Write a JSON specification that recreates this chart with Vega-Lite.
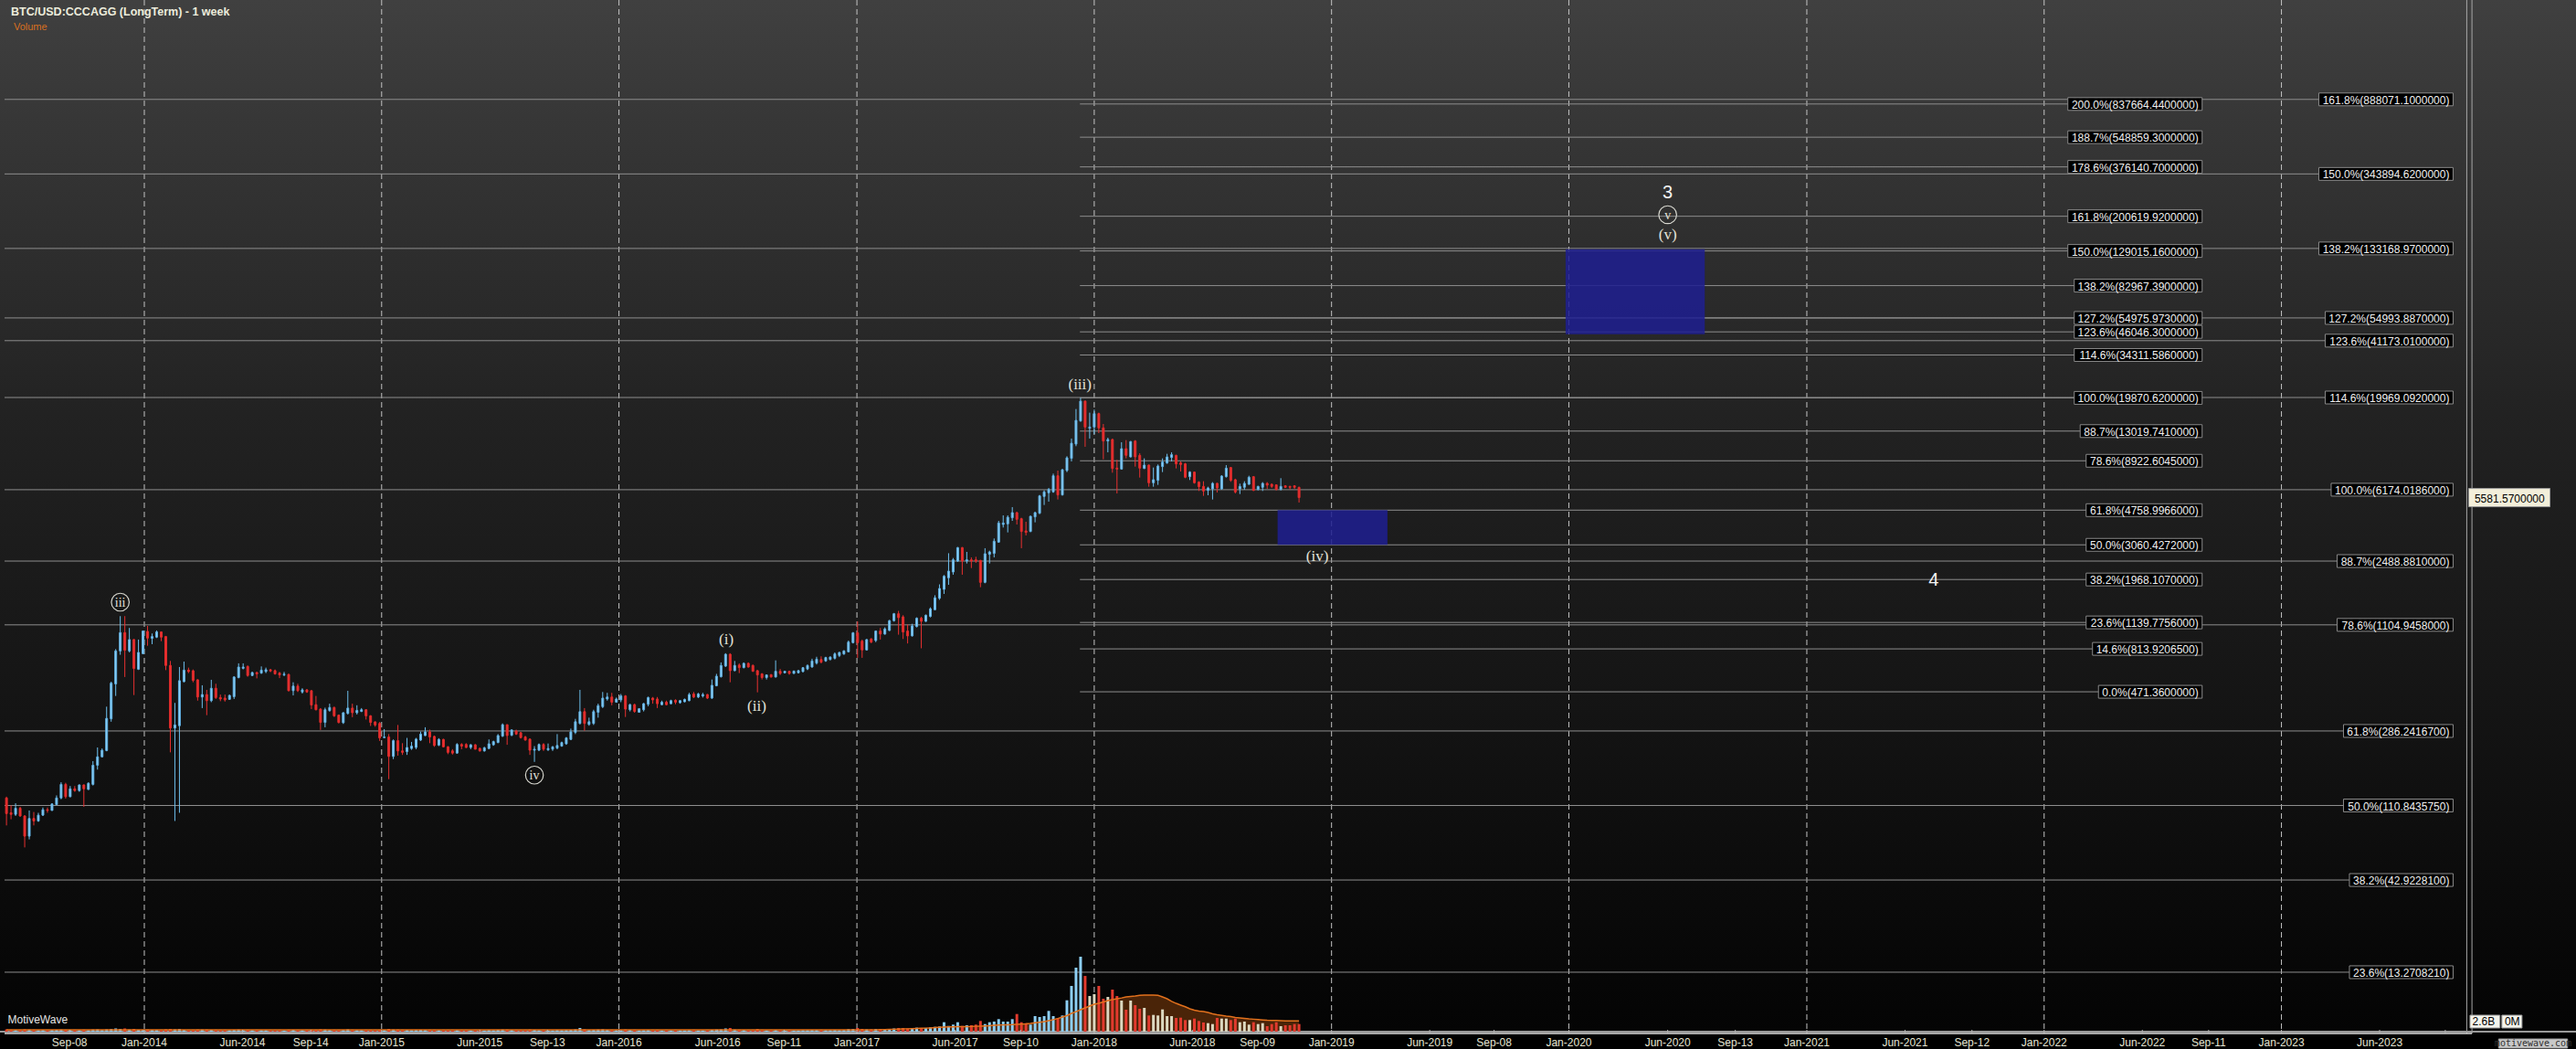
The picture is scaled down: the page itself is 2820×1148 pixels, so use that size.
{
"$schema":"https://vega.github.io/schema/vega-lite/v6.json",
"width":2820,"height":1131,
"autosize":{"type":"none"},
"padding":{"left":0,"top":0,"right":0,"bottom":17},
"background":"#000000",
"view":{"stroke":null,"fill":{"gradient":"linear","x1":0,"y1":0,"x2":0,"y2":1,"stops":[{"offset":0,"color":"#404040"},{"offset":0.07,"color":"#3a3a3a"},{"offset":0.35,"color":"#262626"},{"offset":0.4,"color":"#222222"},{"offset":0.69,"color":"#141414"},{"offset":0.95,"color":"#060606"},{"offset":1,"color":"#040404"}]}},
"datasets":{
"candles":[
{"d":"2013-06-03","o":122,"h":124,"l":86,"c":100,"v":80,"m":64},
{"d":"2013-06-10","o":101,"h":111,"l":93,"c":99,"v":64,"m":64},
{"d":"2013-06-17","o":99,"h":114,"l":97,"c":107,"v":56,"m":64},
{"d":"2013-06-24","o":107,"h":109,"l":96,"c":97,"v":56,"m":64},
{"d":"2013-07-01","o":97,"h":98,"l":65,"c":75,"v":80,"m":64},
{"d":"2013-07-08","o":75,"h":104,"l":72,"c":94,"v":72,"m":64},
{"d":"2013-07-15","o":94,"h":102,"l":86,"c":91,"v":56,"m":64},
{"d":"2013-07-22","o":91,"h":101,"l":90,"c":98,"v":48,"m":64},
{"d":"2013-07-29","o":98,"h":108,"l":97,"c":105,"v":56,"m":64},
{"d":"2013-08-05","o":105,"h":108,"l":101,"c":104,"v":48,"m":64},
{"d":"2013-08-12","o":104,"h":114,"l":104,"c":113,"v":56,"m":64},
{"d":"2013-08-19","o":112,"h":126,"l":112,"c":122,"v":64,"m":64},
{"d":"2013-08-26","o":122,"h":149,"l":120,"c":145,"v":72,"m":64},
{"d":"2013-09-02","o":145,"h":148,"l":121,"c":124,"v":64,"m":64},
{"d":"2013-09-09","o":124,"h":142,"l":123,"c":137,"v":56,"m":64},
{"d":"2013-09-16","o":137,"h":142,"l":132,"c":134,"v":48,"m":64},
{"d":"2013-09-23","o":134,"h":145,"l":132,"c":144,"v":48,"m":64},
{"d":"2013-09-30","o":144,"h":145,"l":109,"c":137,"v":64,"m":64},
{"d":"2013-10-07","o":136,"h":149,"l":135,"c":147,"v":48,"m":64},
{"d":"2013-10-14","o":145,"h":195,"l":143,"c":185,"v":72,"m":64},
{"d":"2013-10-21","o":185,"h":232,"l":175,"c":206,"v":80,"m":64},
{"d":"2013-10-28","o":206,"h":229,"l":204,"c":224,"v":56,"m":64},
{"d":"2013-11-04","o":223,"h":390,"l":221,"c":336,"v":80,"m":64},
{"d":"2013-11-11","o":334,"h":536,"l":322,"c":526,"v":96,"m":64},
{"d":"2013-11-18","o":521,"h":811,"l":447,"c":793,"v":112,"m":64},
{"d":"2013-11-25","o":793,"h":1235,"l":755,"c":1001,"v":96,"m":64},
{"d":"2013-12-02","o":1001,"h":1235,"l":569,"c":800,"v":112,"m":64},
{"d":"2013-12-09","o":793,"h":1062,"l":778,"c":916,"v":72,"m":64},
{"d":"2013-12-16","o":916,"h":923,"l":452,"c":634,"v":96,"m":64},
{"d":"2013-12-23","o":628,"h":916,"l":622,"c":778,"v":64,"m":64},
{"d":"2013-12-30","o":766,"h":1029,"l":760,"c":1021,"v":64,"m":64},
{"d":"2014-01-06","o":1017,"h":1091,"l":847,"c":934,"v":72,"m":64},
{"d":"2014-01-13","o":930,"h":990,"l":864,"c":952,"v":56,"m":64},
{"d":"2014-01-20","o":945,"h":1029,"l":934,"c":1010,"v":56,"m":64},
{"d":"2014-01-27","o":1010,"h":1017,"l":898,"c":945,"v":48,"m":64},
{"d":"2014-02-03","o":952,"h":960,"l":621,"c":659,"v":80,"m":64},
{"d":"2014-02-10","o":659,"h":698,"l":218,"c":297,"v":96,"m":64},
{"d":"2014-02-17","o":297,"h":409,"l":91,"c":309,"v":80,"m":64},
{"d":"2014-02-24","o":306,"h":646,"l":101,"c":543,"v":96,"m":64},
{"d":"2014-03-03","o":536,"h":692,"l":532,"c":621,"v":64,"m":64},
{"d":"2014-03-10","o":621,"h":641,"l":598,"c":610,"v":48,"m":64},
{"d":"2014-03-17","o":616,"h":626,"l":532,"c":545,"v":56,"m":64},
{"d":"2014-03-24","o":549,"h":553,"l":421,"c":441,"v":72,"m":64},
{"d":"2014-03-31","o":441,"h":512,"l":383,"c":455,"v":72,"m":64},
{"d":"2014-04-07","o":455,"h":483,"l":350,"c":421,"v":72,"m":64},
{"d":"2014-04-14","o":421,"h":549,"l":413,"c":493,"v":64,"m":64},
{"d":"2014-04-21","o":493,"h":522,"l":430,"c":438,"v":56,"m":64},
{"d":"2014-04-28","o":438,"h":455,"l":418,"c":430,"v":48,"m":64},
{"d":"2014-05-05","o":435,"h":455,"l":416,"c":425,"v":48,"m":64},
{"d":"2014-05-12","o":428,"h":455,"l":425,"c":450,"v":48,"m":64},
{"d":"2014-05-19","o":443,"h":575,"l":430,"c":569,"v":64,"m":64},
{"d":"2014-05-26","o":565,"h":677,"l":559,"c":646,"v":72,"m":64},
{"d":"2014-06-02","o":635,"h":677,"l":627,"c":646,"v":56,"m":64},
{"d":"2014-06-09","o":651,"h":659,"l":571,"c":580,"v":56,"m":64},
{"d":"2014-06-16","o":580,"h":609,"l":575,"c":602,"v":48,"m":64},
{"d":"2014-06-23","o":602,"h":609,"l":559,"c":592,"v":48,"m":64},
{"d":"2014-06-30","o":598,"h":651,"l":592,"c":621,"v":48,"m":64},
{"d":"2014-07-07","o":610,"h":641,"l":598,"c":624,"v":48,"m":64},
{"d":"2014-07-14","o":624,"h":631,"l":605,"c":614,"v":40,"m":64},
{"d":"2014-07-21","o":617,"h":626,"l":586,"c":592,"v":40,"m":64},
{"d":"2014-07-28","o":598,"h":607,"l":561,"c":584,"v":48,"m":64},
{"d":"2014-08-04","o":584,"h":607,"l":575,"c":590,"v":40,"m":64},
{"d":"2014-08-11","o":588,"h":592,"l":474,"c":478,"v":64,"m":64},
{"d":"2014-08-18","o":478,"h":532,"l":450,"c":507,"v":64,"m":64},
{"d":"2014-08-25","o":507,"h":522,"l":470,"c":478,"v":48,"m":64},
{"d":"2014-09-01","o":470,"h":493,"l":461,"c":483,"v":48,"m":64},
{"d":"2014-09-08","o":483,"h":488,"l":465,"c":470,"v":48,"m":64},
{"d":"2014-09-15","o":478,"h":481,"l":378,"c":398,"v":64,"m":64},
{"d":"2014-09-22","o":400,"h":447,"l":372,"c":375,"v":64,"m":64},
{"d":"2014-09-29","o":378,"h":383,"l":290,"c":319,"v":80,"m":64},
{"d":"2014-10-06","o":319,"h":385,"l":300,"c":375,"v":72,"m":64},
{"d":"2014-10-13","o":371,"h":405,"l":366,"c":386,"v":56,"m":64},
{"d":"2014-10-20","o":386,"h":390,"l":342,"c":347,"v":56,"m":64},
{"d":"2014-10-27","o":350,"h":353,"l":315,"c":319,"v":56,"m":64},
{"d":"2014-11-03","o":318,"h":364,"l":313,"c":361,"v":56,"m":64},
{"d":"2014-11-10","o":358,"h":477,"l":353,"c":383,"v":80,"m":64},
{"d":"2014-11-17","o":383,"h":405,"l":341,"c":361,"v":56,"m":64},
{"d":"2014-11-24","o":361,"h":397,"l":353,"c":372,"v":48,"m":64},
{"d":"2014-12-01","o":367,"h":383,"l":364,"c":375,"v":48,"m":64},
{"d":"2014-12-08","o":375,"h":378,"l":331,"c":347,"v":48,"m":64},
{"d":"2014-12-15","o":347,"h":350,"l":305,"c":319,"v":56,"m":64},
{"d":"2014-12-22","o":321,"h":324,"l":302,"c":309,"v":40,"m":64},
{"d":"2014-12-29","o":315,"h":321,"l":252,"c":262,"v":64,"m":64},
{"d":"2015-01-05","o":263,"h":293,"l":261,"c":265,"v":56,"m":64},
{"d":"2015-01-12","o":265,"h":275,"l":155,"c":207,"v":96,"m":64},
{"d":"2015-01-19","o":207,"h":257,"l":200,"c":253,"v":72,"m":64},
{"d":"2015-01-26","o":253,"h":309,"l":209,"c":222,"v":72,"m":64},
{"d":"2015-02-02","o":222,"h":245,"l":211,"c":218,"v":56,"m":64},
{"d":"2015-02-09","o":220,"h":262,"l":211,"c":232,"v":56,"m":64},
{"d":"2015-02-16","o":229,"h":249,"l":225,"c":236,"v":48,"m":64},
{"d":"2015-02-23","o":232,"h":262,"l":227,"c":258,"v":56,"m":64},
{"d":"2015-03-02","o":255,"h":284,"l":252,"c":275,"v":64,"m":64},
{"d":"2015-03-09","o":270,"h":300,"l":268,"c":283,"v":56,"m":64},
{"d":"2015-03-16","o":283,"h":291,"l":245,"c":265,"v":56,"m":64},
{"d":"2015-03-23","o":267,"h":270,"l":234,"c":238,"v":48,"m":64},
{"d":"2015-03-30","o":239,"h":261,"l":236,"c":257,"v":48,"m":64},
{"d":"2015-04-06","o":257,"h":259,"l":232,"c":234,"v":48,"m":64},
{"d":"2015-04-13","o":234,"h":236,"l":213,"c":218,"v":48,"m":64},
{"d":"2015-04-20","o":222,"h":227,"l":212,"c":216,"v":40,"m":64},
{"d":"2015-04-27","o":216,"h":245,"l":214,"c":241,"v":48,"m":64},
{"d":"2015-05-04","o":241,"h":245,"l":227,"c":236,"v":40,"m":64},
{"d":"2015-05-11","o":241,"h":245,"l":230,"c":232,"v":40,"m":64},
{"d":"2015-05-18","o":232,"h":242,"l":227,"c":240,"v":40,"m":64},
{"d":"2015-05-25","o":240,"h":242,"l":226,"c":227,"v":40,"m":64},
{"d":"2015-06-01","o":229,"h":232,"l":220,"c":222,"v":40,"m":64},
{"d":"2015-06-08","o":222,"h":234,"l":220,"c":231,"v":40,"m":64},
{"d":"2015-06-15","o":229,"h":257,"l":227,"c":243,"v":56,"m":64},
{"d":"2015-06-22","o":240,"h":253,"l":237,"c":250,"v":48,"m":64},
{"d":"2015-06-29","o":247,"h":275,"l":245,"c":270,"v":64,"m":64},
{"d":"2015-07-06","o":268,"h":315,"l":265,"c":310,"v":72,"m":64},
{"d":"2015-07-13","o":310,"h":311,"l":240,"c":270,"v":72,"m":64},
{"d":"2015-07-20","o":271,"h":291,"l":268,"c":290,"v":56,"m":64},
{"d":"2015-07-27","o":286,"h":291,"l":272,"c":275,"v":48,"m":64},
{"d":"2015-08-03","o":280,"h":283,"l":260,"c":263,"v":48,"m":64},
{"d":"2015-08-10","o":265,"h":269,"l":253,"c":255,"v":48,"m":64},
{"d":"2015-08-17","o":258,"h":260,"l":211,"c":224,"v":72,"m":64},
{"d":"2015-08-24","o":224,"h":236,"l":193,"c":227,"v":64,"m":64},
{"d":"2015-08-31","o":224,"h":244,"l":222,"c":241,"v":48,"m":64},
{"d":"2015-09-07","o":241,"h":245,"l":222,"c":227,"v":48,"m":64},
{"d":"2015-09-14","o":225,"h":244,"l":222,"c":229,"v":40,"m":64},
{"d":"2015-09-21","o":227,"h":236,"l":222,"c":234,"v":40,"m":64},
{"d":"2015-09-28","o":230,"h":275,"l":227,"c":238,"v":56,"m":64},
{"d":"2015-10-05","o":236,"h":250,"l":234,"c":247,"v":48,"m":64},
{"d":"2015-10-12","o":243,"h":265,"l":240,"c":262,"v":56,"m":64},
{"d":"2015-10-19","o":257,"h":295,"l":255,"c":283,"v":64,"m":64},
{"d":"2015-10-26","o":281,"h":334,"l":275,"c":322,"v":80,"m":64},
{"d":"2015-11-02","o":315,"h":483,"l":311,"c":366,"v":128,"m":64},
{"d":"2015-11-09","o":366,"h":383,"l":287,"c":315,"v":80,"m":64},
{"d":"2015-11-16","o":311,"h":339,"l":306,"c":322,"v":56,"m":64},
{"d":"2015-11-23","o":315,"h":375,"l":309,"c":366,"v":64,"m":64},
{"d":"2015-11-30","o":363,"h":405,"l":339,"c":395,"v":72,"m":64},
{"d":"2015-12-07","o":390,"h":470,"l":383,"c":435,"v":80,"m":64},
{"d":"2015-12-14","o":430,"h":465,"l":421,"c":441,"v":64,"m":64},
{"d":"2015-12-21","o":441,"h":465,"l":397,"c":413,"v":56,"m":64},
{"d":"2015-12-28","o":413,"h":438,"l":410,"c":430,"v":48,"m":64},
{"d":"2016-01-04","o":425,"h":458,"l":413,"c":447,"v":48,"m":64},
{"d":"2016-01-11","o":447,"h":452,"l":342,"c":378,"v":72,"m":64},
{"d":"2016-01-18","o":375,"h":405,"l":367,"c":400,"v":56,"m":64},
{"d":"2016-01-25","o":400,"h":405,"l":361,"c":367,"v":48,"m":64},
{"d":"2016-02-01","o":363,"h":383,"l":361,"c":380,"v":40,"m":64},
{"d":"2016-02-08","o":375,"h":409,"l":367,"c":405,"v":48,"m":64},
{"d":"2016-02-15","o":402,"h":443,"l":392,"c":438,"v":56,"m":64},
{"d":"2016-02-22","o":435,"h":441,"l":405,"c":425,"v":48,"m":64},
{"d":"2016-02-29","o":430,"h":441,"l":383,"c":405,"v":56,"m":64},
{"d":"2016-03-07","o":400,"h":421,"l":397,"c":413,"v":40,"m":64},
{"d":"2016-03-14","o":413,"h":421,"l":397,"c":400,"v":40,"m":64},
{"d":"2016-03-21","o":405,"h":426,"l":402,"c":421,"v":40,"m":64},
{"d":"2016-03-28","o":423,"h":428,"l":402,"c":413,"v":40,"m":64},
{"d":"2016-04-04","o":410,"h":425,"l":405,"c":421,"v":40,"m":64},
{"d":"2016-04-11","o":415,"h":432,"l":412,"c":428,"v":40,"m":64},
{"d":"2016-04-18","o":421,"h":465,"l":418,"c":455,"v":48,"m":64},
{"d":"2016-04-25","o":458,"h":470,"l":435,"c":441,"v":48,"m":64},
{"d":"2016-05-02","o":441,"h":465,"l":435,"c":458,"v":40,"m":64},
{"d":"2016-05-09","o":447,"h":465,"l":438,"c":455,"v":40,"m":64},
{"d":"2016-05-16","o":455,"h":458,"l":430,"c":435,"v":40,"m":64},
{"d":"2016-05-23","o":435,"h":551,"l":430,"c":512,"v":64,"m":64},
{"d":"2016-05-30","o":509,"h":592,"l":505,"c":575,"v":72,"m":64},
{"d":"2016-06-06","o":571,"h":685,"l":565,"c":659,"v":80,"m":64},
{"d":"2016-06-13","o":654,"h":770,"l":646,"c":760,"v":112,"m":64},
{"d":"2016-06-20","o":760,"h":770,"l":532,"c":617,"v":128,"m":64},
{"d":"2016-06-27","o":617,"h":698,"l":612,"c":659,"v":72,"m":64},
{"d":"2016-07-04","o":662,"h":677,"l":598,"c":641,"v":64,"m":64},
{"d":"2016-07-11","o":641,"h":685,"l":635,"c":677,"v":56,"m":64},
{"d":"2016-07-18","o":677,"h":685,"l":641,"c":646,"v":48,"m":64},
{"d":"2016-07-25","o":659,"h":667,"l":607,"c":612,"v":48,"m":64},
{"d":"2016-08-01","o":617,"h":621,"l":468,"c":584,"v":96,"m":64},
{"d":"2016-08-08","o":592,"h":598,"l":551,"c":565,"v":48,"m":64},
{"d":"2016-08-15","o":565,"h":588,"l":551,"c":584,"v":40,"m":64},
{"d":"2016-08-22","o":586,"h":590,"l":565,"c":569,"v":40,"m":64},
{"d":"2016-08-29","o":569,"h":703,"l":565,"c":612,"v":56,"m":64},
{"d":"2016-09-05","o":612,"h":630,"l":584,"c":595,"v":40,"m":64},
{"d":"2016-09-12","o":600,"h":614,"l":595,"c":612,"v":40,"m":64},
{"d":"2016-09-19","o":612,"h":617,"l":586,"c":595,"v":40,"m":64},
{"d":"2016-09-26","o":595,"h":617,"l":594,"c":614,"v":40,"m":64},
{"d":"2016-10-03","o":600,"h":621,"l":595,"c":617,"v":40,"m":64},
{"d":"2016-10-10","o":609,"h":646,"l":605,"c":641,"v":48,"m":64},
{"d":"2016-10-17","o":630,"h":667,"l":621,"c":659,"v":48,"m":64},
{"d":"2016-10-24","o":646,"h":718,"l":641,"c":698,"v":56,"m":64},
{"d":"2016-10-31","o":679,"h":736,"l":667,"c":714,"v":56,"m":64},
{"d":"2016-11-07","o":711,"h":740,"l":677,"c":687,"v":56,"m":64},
{"d":"2016-11-14","o":698,"h":736,"l":690,"c":729,"v":48,"m":64},
{"d":"2016-11-21","o":711,"h":740,"l":703,"c":733,"v":48,"m":64},
{"d":"2016-11-28","o":722,"h":778,"l":711,"c":763,"v":56,"m":64},
{"d":"2016-12-05","o":748,"h":784,"l":733,"c":778,"v":48,"m":64},
{"d":"2016-12-12","o":763,"h":800,"l":754,"c":793,"v":56,"m":64},
{"d":"2016-12-19","o":784,"h":905,"l":778,"c":887,"v":90,"m":64},
{"d":"2016-12-26","o":881,"h":1009,"l":872,"c":998,"v":96,"m":64},
{"d":"2017-01-02","o":998,"h":1156,"l":726,"c":881,"v":128,"m":64},
{"d":"2017-01-09","o":898,"h":916,"l":726,"c":803,"v":96,"m":64},
{"d":"2017-01-16","o":803,"h":923,"l":796,"c":916,"v":80,"m":66},
{"d":"2017-01-23","o":923,"h":934,"l":875,"c":887,"v":80,"m":66},
{"d":"2017-01-30","o":905,"h":1029,"l":887,"c":1021,"v":96,"m":68},
{"d":"2017-02-06","o":1021,"h":1061,"l":916,"c":983,"v":96,"m":70},
{"d":"2017-02-13","o":983,"h":1070,"l":975,"c":1049,"v":80,"m":74},
{"d":"2017-02-20","o":1029,"h":1178,"l":1021,"c":1165,"v":96,"m":78},
{"d":"2017-02-27","o":1165,"h":1286,"l":1151,"c":1273,"v":112,"m":84},
{"d":"2017-03-06","o":1273,"h":1320,"l":975,"c":1211,"v":128,"m":90},
{"d":"2017-03-13","o":1223,"h":1249,"l":923,"c":1009,"v":128,"m":96},
{"d":"2017-03-20","o":1021,"h":1112,"l":872,"c":960,"v":112,"m":100},
{"d":"2017-03-27","o":960,"h":1120,"l":952,"c":1090,"v":120,"m":106},
{"d":"2017-04-03","o":1082,"h":1216,"l":1070,"c":1202,"v":140,"m":112},
{"d":"2017-04-10","o":1202,"h":1225,"l":820,"c":1156,"v":128,"m":118},
{"d":"2017-04-17","o":1156,"h":1260,"l":1147,"c":1249,"v":130,"m":124},
{"d":"2017-04-24","o":1230,"h":1380,"l":1215,"c":1355,"v":150,"m":130},
{"d":"2017-05-01","o":1340,"h":1610,"l":1330,"c":1560,"v":170,"m":144},
{"d":"2017-05-08","o":1550,"h":1850,"l":1520,"c":1756,"v":180,"m":150},
{"d":"2017-05-15","o":1736,"h":2084,"l":1638,"c":2051,"v":330,"m":158},
{"d":"2017-05-22","o":2012,"h":2750,"l":1840,"c":2191,"v":200,"m":165},
{"d":"2017-05-29","o":2165,"h":2588,"l":2092,"c":2528,"v":246,"m":170},
{"d":"2017-06-05","o":2489,"h":2976,"l":2460,"c":2953,"v":330,"m":176},
{"d":"2017-06-12","o":2953,"h":2976,"l":2092,"c":2489,"v":200,"m":178},
{"d":"2017-06-19","o":2489,"h":2797,"l":2413,"c":2528,"v":224,"m":180},
{"d":"2017-06-26","o":2528,"h":2608,"l":2277,"c":2489,"v":224,"m":182},
{"d":"2017-07-03","o":2528,"h":2628,"l":2432,"c":2489,"v":246,"m":188},
{"d":"2017-07-10","o":2509,"h":2528,"l":1784,"c":1898,"v":374,"m":195},
{"d":"2017-07-17","o":1898,"h":2931,"l":1876,"c":2733,"v":266,"m":200},
{"d":"2017-07-24","o":2712,"h":2841,"l":2413,"c":2797,"v":330,"m":208},
{"d":"2017-07-31","o":2744,"h":3317,"l":2608,"c":3203,"v":352,"m":224},
{"d":"2017-08-07","o":3167,"h":4153,"l":3142,"c":4042,"v":438,"m":230},
{"d":"2017-08-14","o":3964,"h":4454,"l":3814,"c":4042,"v":352,"m":236},
{"d":"2017-08-21","o":3995,"h":4454,"l":3584,"c":4350,"v":352,"m":240},
{"d":"2017-08-28","o":4318,"h":4946,"l":4153,"c":4612,"v":438,"m":246},
{"d":"2017-09-04","o":4612,"h":4667,"l":3964,"c":4235,"v":618,"m":256},
{"d":"2017-09-11","o":4268,"h":4318,"l":2931,"c":3627,"v":330,"m":264},
{"d":"2017-09-18","o":3655,"h":4105,"l":3448,"c":3584,"v":298,"m":272},
{"d":"2017-09-25","o":3627,"h":4437,"l":3598,"c":4402,"v":246,"m":288},
{"d":"2017-10-02","o":4368,"h":4667,"l":4074,"c":4612,"v":544,"m":310},
{"d":"2017-10-09","o":4577,"h":5775,"l":4524,"c":5708,"v":512,"m":330},
{"d":"2017-10-16","o":5663,"h":6122,"l":5082,"c":6005,"v":544,"m":350},
{"d":"2017-10-23","o":5935,"h":6315,"l":5304,"c":6194,"v":726,"m":384},
{"d":"2017-10-30","o":6005,"h":7577,"l":5935,"c":7375,"v":544,"m":420},
{"d":"2017-11-06","o":7375,"h":7876,"l":5450,"c":5775,"v":480,"m":460},
{"d":"2017-11-13","o":5775,"h":8030,"l":5730,"c":7967,"v":566,"m":512},
{"d":"2017-11-20","o":7876,"h":9450,"l":7725,"c":9268,"v":1098,"m":560},
{"d":"2017-11-27","o":9196,"h":11840,"l":8848,"c":11160,"v":1600,"m":640},
{"d":"2017-12-04","o":11040,"h":17240,"l":10740,"c":14930,"v":2240,"m":700},
{"d":"2017-12-11","o":14820,"h":19870,"l":14650,"c":19060,"v":2624,"m":768},
{"d":"2017-12-18","o":19060,"h":19210,"l":10660,"c":13700,"v":1950,"m":830},
{"d":"2017-12-25","o":13500,"h":16460,"l":11840,"c":13710,"v":1248,"m":896},
{"d":"2018-01-01","o":13710,"h":17110,"l":12540,"c":16260,"v":1312,"m":960},
{"d":"2018-01-08","o":16260,"h":16460,"l":12690,"c":13560,"v":1600,"m":992},
{"d":"2018-01-15","o":13560,"h":14250,"l":9091,"c":11470,"v":1152,"m":1040},
{"d":"2018-01-22","o":11470,"h":11970,"l":9939,"c":11700,"v":1216,"m":1088},
{"d":"2018-01-29","o":11700,"h":11840,"l":7665,"c":8093,"v":1472,"m":1120},
{"d":"2018-02-05","o":8125,"h":9020,"l":5888,"c":8030,"v":1248,"m":1152},
{"d":"2018-02-12","o":8030,"h":11300,"l":7967,"c":10410,"v":1088,"m":1180},
{"d":"2018-02-19","o":10410,"h":11610,"l":9197,"c":9561,"v":768,"m":1216},
{"d":"2018-02-26","o":9377,"h":11470,"l":9304,"c":11390,"v":1088,"m":1232},
{"d":"2018-03-05","o":11470,"h":11610,"l":8284,"c":9377,"v":928,"m":1248},
{"d":"2018-03-12","o":9561,"h":9824,"l":7205,"c":8125,"v":800,"m":1270},
{"d":"2018-03-19","o":8093,"h":9197,"l":8030,"c":8446,"v":832,"m":1280},
{"d":"2018-03-26","o":8446,"h":8512,"l":6412,"c":6745,"v":566,"m":1280},
{"d":"2018-04-02","o":6745,"h":8188,"l":6412,"c":7013,"v":586,"m":1280},
{"d":"2018-04-09","o":6958,"h":8512,"l":6564,"c":8349,"v":566,"m":1270},
{"d":"2018-04-16","o":8284,"h":9197,"l":7725,"c":8780,"v":778,"m":1216},
{"d":"2018-04-23","o":8679,"h":9748,"l":8579,"c":9377,"v":544,"m":1152},
{"d":"2018-04-30","o":9304,"h":9939,"l":8848,"c":9636,"v":544,"m":1060},
{"d":"2018-05-07","o":9561,"h":9636,"l":8093,"c":8579,"v":480,"m":990},
{"d":"2018-05-14","o":8679,"h":8848,"l":7785,"c":8512,"v":490,"m":928},
{"d":"2018-05-21","o":8579,"h":8679,"l":7149,"c":7233,"v":406,"m":870},
{"d":"2018-05-28","o":7289,"h":7815,"l":6985,"c":7725,"v":406,"m":800},
{"d":"2018-06-04","o":7725,"h":7785,"l":6667,"c":6745,"v":458,"m":752},
{"d":"2018-06-11","o":6798,"h":6878,"l":6074,"c":6412,"v":374,"m":720},
{"d":"2018-06-18","o":6438,"h":6878,"l":5708,"c":6074,"v":320,"m":704},
{"d":"2018-06-25","o":6121,"h":6412,"l":5753,"c":6314,"v":298,"m":672},
{"d":"2018-07-02","o":6241,"h":6798,"l":5449,"c":6693,"v":266,"m":624},
{"d":"2018-07-09","o":6693,"h":6745,"l":5957,"c":6314,"v":480,"m":592},
{"d":"2018-07-16","o":6241,"h":7431,"l":6169,"c":7346,"v":458,"m":570},
{"d":"2018-07-23","o":7289,"h":8446,"l":7205,"c":8125,"v":458,"m":544},
{"d":"2018-07-30","o":8188,"h":8252,"l":6824,"c":6958,"v":406,"m":525},
{"d":"2018-08-06","o":7013,"h":7100,"l":5888,"c":6003,"v":458,"m":496},
{"d":"2018-08-13","o":6241,"h":6667,"l":5842,"c":6438,"v":330,"m":480},
{"d":"2018-08-20","o":6363,"h":6878,"l":6169,"c":6693,"v":352,"m":464},
{"d":"2018-08-27","o":6615,"h":7374,"l":6564,"c":7233,"v":246,"m":448},
{"d":"2018-09-03","o":7289,"h":7346,"l":6074,"c":6121,"v":330,"m":436},
{"d":"2018-09-10","o":6193,"h":6488,"l":6121,"c":6438,"v":266,"m":422},
{"d":"2018-09-17","o":6363,"h":6798,"l":6074,"c":6693,"v":298,"m":410},
{"d":"2018-09-24","o":6693,"h":6798,"l":6241,"c":6539,"v":192,"m":400},
{"d":"2018-10-01","o":6615,"h":6693,"l":6314,"c":6438,"v":266,"m":394},
{"d":"2018-10-08","o":6564,"h":6615,"l":6121,"c":6193,"v":330,"m":390},
{"d":"2018-10-15","o":6193,"h":7149,"l":6121,"c":6438,"v":192,"m":384},
{"d":"2018-10-22","o":6488,"h":6539,"l":6314,"c":6363,"v":224,"m":378},
{"d":"2018-10-29","o":6438,"h":6488,"l":6193,"c":6363,"v":224,"m":374},
{"d":"2018-11-05","o":6488,"h":6539,"l":6241,"c":6363,"v":266,"m":374},
{"d":"2018-11-12","o":6363,"h":6412,"l":5243,"c":5581.57,"v":266,"m":374}
],
"fib":[
{"p":837664.44,"t":"200.0%(837664.4400000)","xs":"2017-12-10","xe":"2022-09-01"},
{"p":548859.3,"t":"188.7%(548859.3000000)","xs":"2017-12-10","xe":"2022-09-01"},
{"p":376140.7,"t":"178.6%(376140.7000000)","xs":"2017-12-10","xe":"2022-09-01"},
{"p":200619.92,"t":"161.8%(200619.9200000)","xs":"2017-12-10","xe":"2022-09-01"},
{"p":129015.16,"t":"150.0%(129015.1600000)","xs":"2017-12-10","xe":"2022-09-01"},
{"p":82967.39,"t":"138.2%(82967.3900000)","xs":"2017-12-10","xe":"2022-09-01"},
{"p":46046.3,"t":"123.6%(46046.3000000)","xs":"2017-12-10","xe":"2022-09-01"},
{"p":54975.973,"t":"127.2%(54975.9730000)","xs":"2017-12-10","xe":"2022-09-01"},
{"p":34311.586,"t":"114.6%(34311.5860000)","xs":"2017-12-10","xe":"2022-09-01"},
{"p":19870.62,"t":"100.0%(19870.6200000)","xs":"2017-12-10","xe":"2022-09-01"},
{"p":13019.741,"t":"88.7%(13019.7410000)","xs":"2017-12-10","xe":"2022-09-01"},
{"p":8922.6045,"t":"78.6%(8922.6045000)","xs":"2017-12-10","xe":"2022-09-01"},
{"p":4758.9966,"t":"61.8%(4758.9966000)","xs":"2017-12-10","xe":"2022-09-01"},
{"p":3060.4272,"t":"50.0%(3060.4272000)","xs":"2017-12-10","xe":"2022-09-01"},
{"p":1968.107,"t":"38.2%(1968.1070000)","xs":"2017-12-10","xe":"2022-09-01"},
{"p":1139.7756,"t":"23.6%(1139.7756000)","xs":"2017-12-10","xe":"2022-09-01"},
{"p":813.92065,"t":"14.6%(813.9206500)","xs":"2017-12-10","xe":"2022-09-01"},
{"p":471.36,"t":"0.0%(471.3600000)","xs":"2017-12-10","xe":"2022-09-01"},
{"p":888071.1,"t":"161.8%(888071.1000000)","xs":"2013-05-31","xe":"2023-09-22"},
{"p":343894.62,"t":"150.0%(343894.6200000)","xs":"2013-05-31","xe":"2023-09-22"},
{"p":133168.97,"t":"138.2%(133168.9700000)","xs":"2013-05-31","xe":"2023-09-22"},
{"p":54993.887,"t":"127.2%(54993.8870000)","xs":"2013-05-31","xe":"2023-09-22"},
{"p":41173.01,"t":"123.6%(41173.0100000)","xs":"2013-05-31","xe":"2023-09-22"},
{"p":19969.092,"t":"114.6%(19969.0920000)","xs":"2013-05-31","xe":"2023-09-22"},
{"p":6174.0186,"t":"100.0%(6174.0186000)","xs":"2013-05-31","xe":"2023-09-22"},
{"p":2488.881,"t":"88.7%(2488.8810000)","xs":"2013-05-31","xe":"2023-09-22"},
{"p":1104.9458,"t":"78.6%(1104.9458000)","xs":"2013-05-31","xe":"2023-09-22"},
{"p":286.24167,"t":"61.8%(286.2416700)","xs":"2013-05-31","xe":"2023-09-22"},
{"p":110.843575,"t":"50.0%(110.8435750)","xs":"2013-05-31","xe":"2023-09-22"},
{"p":42.92281,"t":"38.2%(42.9228100)","xs":"2013-05-31","xe":"2023-09-22"},
{"p":13.270821,"t":"23.6%(13.2708210)","xs":"2013-05-31","xe":"2023-09-22"}
],
"grid":[{"d":"2014-01-01"},{"d":"2015-01-01"},{"d":"2016-01-01"},{"d":"2017-01-01"},{"d":"2018-01-01"},{"d":"2019-01-01"},{"d":"2020-01-01"},{"d":"2021-01-01"},{"d":"2022-01-01"},{"d":"2023-01-01"}],
"xlab":[
{"d":"2013-09-08","t":"Sep-08"},{"d":"2014-01-01","t":"Jan-2014"},{"d":"2014-06-01","t":"Jun-2014"},{"d":"2014-09-14","t":"Sep-14"},
{"d":"2015-01-01","t":"Jan-2015"},{"d":"2015-06-01","t":"Jun-2015"},{"d":"2015-09-13","t":"Sep-13"},
{"d":"2016-01-01","t":"Jan-2016"},{"d":"2016-06-01","t":"Jun-2016"},{"d":"2016-09-11","t":"Sep-11"},
{"d":"2017-01-01","t":"Jan-2017"},{"d":"2017-06-01","t":"Jun-2017"},{"d":"2017-09-10","t":"Sep-10"},
{"d":"2018-01-01","t":"Jan-2018"},{"d":"2018-06-01","t":"Jun-2018"},{"d":"2018-09-09","t":"Sep-09"},
{"d":"2019-01-01","t":"Jan-2019"},{"d":"2019-06-01","t":"Jun-2019"},{"d":"2019-09-08","t":"Sep-08"},
{"d":"2020-01-01","t":"Jan-2020"},{"d":"2020-06-01","t":"Jun-2020"},{"d":"2020-09-13","t":"Sep-13"},
{"d":"2021-01-01","t":"Jan-2021"},{"d":"2021-06-01","t":"Jun-2021"},{"d":"2021-09-12","t":"Sep-12"},
{"d":"2022-01-01","t":"Jan-2022"},{"d":"2022-06-01","t":"Jun-2022"},{"d":"2022-09-11","t":"Sep-11"},
{"d":"2023-01-01","t":"Jan-2023"},{"d":"2023-06-01","t":"Jun-2023"},{"d":"2023-09-10","t":""}
],
"axisline":[{"d1":"2013-05-31","d2":"2023-10-21"}],
"borders":[{"d":"2023-10-13"},{"d":"2023-10-21"}],
"boxes":[{"d1":"2019-12-27","d2":"2020-07-28","p1":44700,"p2":132000},{"d1":"2018-10-10","d2":"2019-03-28","p1":3060.43,"p2":4759}],
"tags":[{"d1":"2023-10-16","d2":"2024-02-18","p1":4969,"p2":6270}],
"notes":[
{"d":"2013-06-10","p":2721000,"t":"BTC/USD:CCCAGG (LongTerm) - 1 week","k":"title"},
{"d":"2013-06-14","p":2233000,"t":"Volume","k":"vol"},
{"d":"2013-11-25","p":1475,"t":"iii","k":"circ"},
{"d":"2015-08-24","p":163.2,"t":"iv","k":"circ"},
{"d":"2020-06-01","p":204600,"t":"v","k":"circ"},
{"d":"2016-06-14","p":915,"t":"(i)","k":"paren"},
{"d":"2016-07-31","p":393,"t":"(ii)","k":"paren"},
{"d":"2017-12-10","p":23500,"t":"(iii)","k":"paren"},
{"d":"2018-12-10","p":2639,"t":"(iv)","k":"paren"},
{"d":"2020-06-01","p":158300,"t":"(v)","k":"paren"},
{"d":"2020-06-01","p":270400,"t":"3","k":"num"},
{"d":"2021-07-15","p":1950,"t":"4","k":"num"},
{"d":"2023-10-25","p":5581.57,"t":"5581.5700000","k":"last"}
],
"vnotes":[
{"d":"2013-06-05","v":416,"t":"MotiveWave","k":"mw"},
{"d":"2023-11-08","v":362,"t":"2.6B","k":"tag"},
{"d":"2023-12-22","v":362,"t":"0M","k":"tag"},
{"d":"2024-01-23","v":-416,"t":"motivewave.com","k":"wm"}
],
"vboxes":[
{"d1":"2023-10-18","d2":"2023-12-03","v1":128,"v2":576,"k":"tag"},
{"d1":"2023-12-06","d2":"2024-01-06","v1":128,"v2":576,"k":"tag"},
{"d1":"2023-12-01","d2":"2024-03-16","v1":-256,"v2":-576,"k":"wm"}
]
},
"resolve":{"scale":{"y":"independent"}},
"layer":[
{"layer":[
{"data":{"name":"grid"},"mark":{"type":"rule","color":"#c4c4c4","strokeWidth":1,"strokeDash":[6,4]},
 "encoding":{"x":{"field":"d","type":"temporal","scale":{"domain":[{"year":2013,"month":5,"date":31,"hours":1},{"year":2024,"month":3,"date":22}],"nice":false},"axis":null}}},
{"data":{"name":"fib"},"mark":{"type":"rule","color":"#8e8e8e","strokeWidth":1,"clip":true},
 "encoding":{"x":{"field":"xs","type":"temporal","axis":null},"x2":{"field":"xe"},"y":{"field":"p","type":"quantitative","scale":{"type":"log","domain":[6.085,3147500],"nice":false,"zero":false},"axis":null}}},
{"data":{"name":"boxes"},"mark":{"type":"rect","color":"#1e1e90","opacity":0.86},
 "encoding":{"x":{"field":"d1","type":"temporal","axis":null},"x2":{"field":"d2"},"y":{"field":"p1","type":"quantitative","scale":{"type":"log","domain":[6.085,3147500],"nice":false,"zero":false},"axis":null},"y2":{"field":"p2"}}},
{"data":{"name":"borders"},"mark":{"type":"rule","color":"#a8a8a8","strokeWidth":1},
 "encoding":{"x":{"field":"d","type":"temporal","axis":null}}},
{"data":{"name":"candles"},"mark":{"type":"rule","strokeWidth":1},
 "encoding":{"x":{"field":"d","type":"temporal","axis":null},"y":{"field":"l","type":"quantitative","scale":{"type":"log","domain":[6.085,3147500],"nice":false,"zero":false},"axis":null},"y2":{"field":"h"},
  "color":{"condition":{"test":"datum.c >= datum.o","value":"#6ec0ee"},"value":"#e83030"}}},
{"data":{"name":"candles"},"mark":{"type":"bar","size":2,"strokeWidth":1},
 "encoding":{"x":{"field":"d","type":"temporal","axis":null},"y":{"field":"o","type":"quantitative","scale":{"type":"log","domain":[6.085,3147500],"nice":false,"zero":false},"axis":null},"y2":{"field":"c"},
  "color":{"condition":{"test":"datum.c >= datum.o","value":"#92d3f6"},"value":"#e83030"},
  "stroke":{"condition":{"test":"datum.c >= datum.o","value":"#5eaee0"},"value":"#e02c2c"}}},
{"data":{"name":"fib"},"transform":[{"filter":"length(datum.t)==22"}],"mark":{"type":"point","shape":"M-1,-0.0476L0,-0.0476L0,0.0476L-1,0.0476Z","size":86436,"filled":true,"fill":"#000000","stroke":"#8a8a8a","strokeWidth":1,"opacity":1},
 "encoding":{"x":{"field":"xe","type":"temporal","axis":null},"y":{"field":"p","type":"quantitative","scale":{"type":"log","domain":[6.085,3147500],"nice":false,"zero":false},"axis":null}}},
{"data":{"name":"fib"},"transform":[{"filter":"length(datum.t)==21"}],"mark":{"type":"point","shape":"M-1,-0.05L0,-0.05L0,0.05L-1,0.05Z","size":78400,"filled":true,"fill":"#000000","stroke":"#8a8a8a","strokeWidth":1,"opacity":1},
 "encoding":{"x":{"field":"xe","type":"temporal","axis":null},"y":{"field":"p","type":"quantitative","scale":{"type":"log","domain":[6.085,3147500],"nice":false,"zero":false},"axis":null}}},
{"data":{"name":"fib"},"transform":[{"filter":"length(datum.t)==20"}],"mark":{"type":"point","shape":"M-1,-0.0524L0,-0.0524L0,0.0524L-1,0.0524Z","size":71289,"filled":true,"fill":"#000000","stroke":"#8a8a8a","strokeWidth":1,"opacity":1},
 "encoding":{"x":{"field":"xe","type":"temporal","axis":null},"y":{"field":"p","type":"quantitative","scale":{"type":"log","domain":[6.085,3147500],"nice":false,"zero":false},"axis":null}}},
{"data":{"name":"fib"},"transform":[{"filter":"length(datum.t)==19"}],"mark":{"type":"point","shape":"M-1,-0.0551L0,-0.0551L0,0.0551L-1,0.0551Z","size":64516,"filled":true,"fill":"#000000","stroke":"#8a8a8a","strokeWidth":1,"opacity":1},
 "encoding":{"x":{"field":"xe","type":"temporal","axis":null},"y":{"field":"p","type":"quantitative","scale":{"type":"log","domain":[6.085,3147500],"nice":false,"zero":false},"axis":null}}},
{"data":{"name":"fib"},"transform":[{"filter":"length(datum.t)==18"}],"mark":{"type":"point","shape":"M-1,-0.0583L0,-0.0583L0,0.0583L-1,0.0583Z","size":57600,"filled":true,"fill":"#000000","stroke":"#8a8a8a","strokeWidth":1,"opacity":1},
 "encoding":{"x":{"field":"xe","type":"temporal","axis":null},"y":{"field":"p","type":"quantitative","scale":{"type":"log","domain":[6.085,3147500],"nice":false,"zero":false},"axis":null}}},
{"data":{"name":"fib"},"transform":[{"filter":"length(datum.t)==17"}],"mark":{"type":"point","shape":"M-1,-0.0617L0,-0.0617L0,0.0617L-1,0.0617Z","size":51529,"filled":true,"fill":"#000000","stroke":"#8a8a8a","strokeWidth":1,"opacity":1},
 "encoding":{"x":{"field":"xe","type":"temporal","axis":null},"y":{"field":"p","type":"quantitative","scale":{"type":"log","domain":[6.085,3147500],"nice":false,"zero":false},"axis":null}}},
{"data":{"name":"fib"},"mark":{"type":"text","align":"right","baseline":"middle","dx":-4,"dy":1,"font":"Liberation Sans","fontSize":12,"color":"#f0f0f0"},
 "encoding":{"x":{"field":"xe","type":"temporal","axis":null},"y":{"field":"p","type":"quantitative","scale":{"type":"log","domain":[6.085,3147500],"nice":false,"zero":false},"axis":null},"text":{"field":"t"}}},
{"data":{"name":"notes"},"transform":[{"filter":"datum.k=='circ'"}],"mark":{"type":"point","shape":"circle","size":380,"filled":false,"stroke":"#d8d8d0","strokeWidth":1.2,"opacity":1},
 "encoding":{"x":{"field":"d","type":"temporal","axis":null},"y":{"field":"p","type":"quantitative","scale":{"type":"log","domain":[6.085,3147500],"nice":false,"zero":false},"axis":null}}},
{"data":{"name":"notes"},"transform":[{"filter":"datum.k=='circ'"}],"mark":{"type":"text","align":"center","baseline":"middle","dy":1,"font":"Liberation Serif","fontSize":14,"color":"#e2e2da"},
 "encoding":{"x":{"field":"d","type":"temporal","axis":null},"y":{"field":"p","type":"quantitative","scale":{"type":"log","domain":[6.085,3147500],"nice":false,"zero":false},"axis":null},"text":{"field":"t"}}},
{"data":{"name":"notes"},"transform":[{"filter":"datum.k=='paren'"}],"mark":{"type":"text","align":"center","baseline":"middle","font":"Liberation Serif","fontSize":17,"color":"#e2e2da"},
 "encoding":{"x":{"field":"d","type":"temporal","axis":null},"y":{"field":"p","type":"quantitative","scale":{"type":"log","domain":[6.085,3147500],"nice":false,"zero":false},"axis":null},"text":{"field":"t"}}},
{"data":{"name":"notes"},"transform":[{"filter":"datum.k=='num'"}],"mark":{"type":"text","align":"center","baseline":"middle","font":"Liberation Sans","fontSize":20,"color":"#f4f4f4"},
 "encoding":{"x":{"field":"d","type":"temporal","axis":null},"y":{"field":"p","type":"quantitative","scale":{"type":"log","domain":[6.085,3147500],"nice":false,"zero":false},"axis":null},"text":{"field":"t"}}},
{"data":{"name":"notes"},"transform":[{"filter":"datum.k=='title'"}],"mark":{"type":"text","align":"left","baseline":"middle","font":"Liberation Sans","fontSize":12.5,"fontWeight":"bold","color":"#ececdc"},
 "encoding":{"x":{"field":"d","type":"temporal","axis":null},"y":{"field":"p","type":"quantitative","scale":{"type":"log","domain":[6.085,3147500],"nice":false,"zero":false},"axis":null},"text":{"field":"t"}}},
{"data":{"name":"notes"},"transform":[{"filter":"datum.k=='vol'"}],"mark":{"type":"text","align":"left","baseline":"middle","font":"Liberation Sans","fontSize":11,"color":"#da701e"},
 "encoding":{"x":{"field":"d","type":"temporal","axis":null},"y":{"field":"p","type":"quantitative","scale":{"type":"log","domain":[6.085,3147500],"nice":false,"zero":false},"axis":null},"text":{"field":"t"}}},
{"data":{"name":"tags"},"mark":{"type":"rect","color":"#f3efda","stroke":"#9a9a9a","strokeWidth":1},
 "encoding":{"x":{"field":"d1","type":"temporal","axis":null},"x2":{"field":"d2"},"y":{"field":"p1","type":"quantitative","scale":{"type":"log","domain":[6.085,3147500],"nice":false,"zero":false},"axis":null},"y2":{"field":"p2"}}},
{"data":{"name":"notes"},"transform":[{"filter":"datum.k=='last'"}],"mark":{"type":"text","align":"left","baseline":"middle","dy":1,"font":"Liberation Sans","fontSize":12,"color":"#000000"},
 "encoding":{"x":{"field":"d","type":"temporal","axis":null},"y":{"field":"p","type":"quantitative","scale":{"type":"log","domain":[6.085,3147500],"nice":false,"zero":false},"axis":null},"text":{"field":"t"}}}
]},
{"layer":[
{"data":{"name":"candles"},"mark":{"type":"area","color":"#4a2408","opacity":1},
 "encoding":{"x":{"field":"d","type":"temporal","axis":null},"y":{"field":"m","type":"quantitative","scale":{"domain":[0,2624],"range":[1129,1047],"nice":false,"zero":false},"axis":null},"y2":{"datum":0}}},
{"data":{"name":"candles"},"mark":{"type":"rule","color":"#9a9a9a","strokeWidth":1},
 "encoding":{"y":{"datum":0,"type":"quantitative","scale":{"domain":[0,2624],"range":[1129,1047],"nice":false,"zero":false},"axis":null}}},
{"data":{"name":"candles"},"mark":{"type":"bar","size":3},
 "encoding":{"x":{"field":"d","type":"temporal","axis":null},"y":{"field":"v","type":"quantitative","scale":{"domain":[0,2624],"range":[1129,1047],"nice":false,"zero":false},"axis":null},"y2":{"datum":0},
  "color":{"condition":[{"test":"datum.c >= datum.o && time(datum.d) >= time(datetime(2017,11,18))","value":"#dcd8c0"},{"test":"datum.c >= datum.o","value":"#8dcff5"}],"value":"#e23a2e"}}},
{"data":{"name":"candles"},"mark":{"type":"line","color":"#e2711d","strokeWidth":1.5},
 "encoding":{"x":{"field":"d","type":"temporal","axis":null},"y":{"field":"m","type":"quantitative","scale":{"domain":[0,2624],"range":[1129,1047],"nice":false,"zero":false},"axis":null}}},
{"data":{"name":"axisline"},"mark":{"type":"rule","color":"#e0e0e0","strokeWidth":1.5},
 "encoding":{"x":{"field":"d1","type":"temporal","axis":null},"x2":{"field":"d2"},"y":{"datum":-64,"type":"quantitative","scale":{"domain":[0,2624],"range":[1129,1047],"nice":false,"zero":false},"axis":null}}},
{"data":{"name":"xlab"},"mark":{"type":"rule","color":"#b4b4b4","strokeWidth":1},
 "encoding":{"x":{"field":"d","type":"temporal","axis":null},"y":{"datum":-64,"type":"quantitative","scale":{"domain":[0,2624],"range":[1129,1047],"nice":false,"zero":false},"axis":null},"y2":{"datum":64}}},
{"data":{"name":"xlab"},"mark":{"type":"text","align":"center","baseline":"middle","font":"Liberation Sans","fontSize":12,"color":"#e6e6d4"},
 "encoding":{"x":{"field":"d","type":"temporal","axis":null},"y":{"datum":-368,"type":"quantitative","scale":{"domain":[0,2624],"range":[1129,1047],"nice":false,"zero":false},"axis":null},"text":{"field":"t"}}},
{"data":{"name":"vboxes"},"mark":{"type":"rect","stroke":"#9a9a9a","strokeWidth":1},
 "encoding":{"x":{"field":"d1","type":"temporal","axis":null},"x2":{"field":"d2"},"y":{"field":"v1","type":"quantitative","scale":{"domain":[0,2624],"range":[1129,1047],"nice":false,"zero":false},"axis":null},"y2":{"field":"v2"},
  "color":{"condition":{"test":"datum.k=='wm'","value":"#c8c8c8"},"value":"#f4f4ec"}}},
{"data":{"name":"vnotes"},"transform":[{"filter":"datum.k=='mw'"}],"mark":{"type":"text","align":"left","baseline":"middle","font":"Liberation Sans","fontSize":12,"color":"#e4e4e4"},
 "encoding":{"x":{"field":"d","type":"temporal","axis":null},"y":{"field":"v","type":"quantitative","scale":{"domain":[0,2624],"range":[1129,1047],"nice":false,"zero":false},"axis":null},"text":{"field":"t"}}},
{"data":{"name":"vnotes"},"transform":[{"filter":"datum.k=='tag'"}],"mark":{"type":"text","align":"center","baseline":"middle","font":"Liberation Sans","fontSize":12,"color":"#000000"},
 "encoding":{"x":{"field":"d","type":"temporal","axis":null},"y":{"field":"v","type":"quantitative","scale":{"domain":[0,2624],"range":[1129,1047],"nice":false,"zero":false},"axis":null},"text":{"field":"t"}}},
{"data":{"name":"vnotes"},"transform":[{"filter":"datum.k=='wm'"}],"mark":{"type":"text","align":"center","baseline":"middle","font":"DejaVu Sans Mono","fontSize":10,"color":"#303030"},
 "encoding":{"x":{"field":"d","type":"temporal","axis":null},"y":{"field":"v","type":"quantitative","scale":{"domain":[0,2624],"range":[1129,1047],"nice":false,"zero":false},"axis":null},"text":{"field":"t"}}}
]}
]
}
